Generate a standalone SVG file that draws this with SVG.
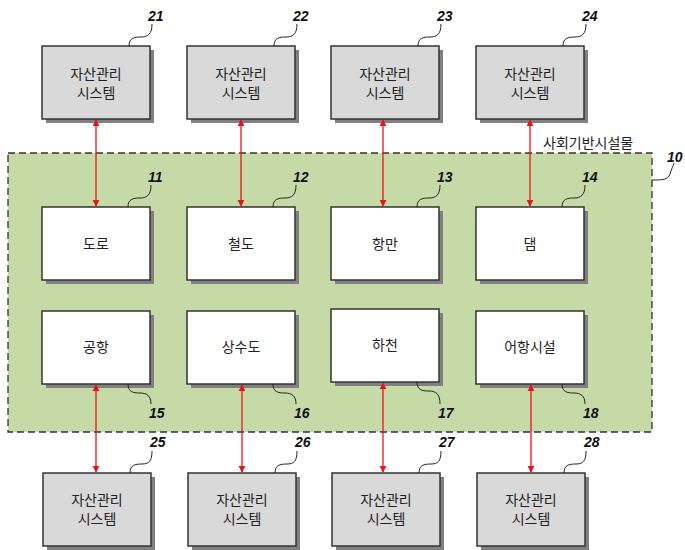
<svg xmlns="http://www.w3.org/2000/svg" width="685" height="550" viewBox="0 0 685 550">
<defs>
<style>
.sys{fill:#d9d9d9;stroke:#333;stroke-width:1.5}
.fac{fill:#fff;stroke:#333;stroke-width:1.5}
.sh{fill:#808080}
.t{font-family:"Noto Sans CJK KR","Noto Sans",sans-serif;font-size:14px;fill:#222;text-anchor:middle}
.lb{font-family:"Liberation Sans",Arial,sans-serif;font-size:14px;font-weight:bold;font-style:italic;fill:#111}
.ld{fill:none;stroke:#222;stroke-width:1}
.ar{stroke:#e8141a;stroke-width:1.3;fill:none;marker-start:url(#ah);marker-end:url(#ah)}
</style>
<marker id="ah" viewBox="0 0 10 10" refX="9" refY="5" markerWidth="7" markerHeight="9" markerUnits="userSpaceOnUse" orient="auto-start-reverse">
<path d="M0,0 L10,5 L0,10 z" fill="#e8141a"/>
</marker>
</defs>
<rect width="685" height="550" fill="#fff"/>

<g id="n10">
<rect x="8" y="153" width="644" height="279" fill="#c6daa8" stroke="#333" stroke-width="1.3" stroke-dasharray="7,4"/>
<text x="543" y="148" class="t" style="text-anchor:start">사회기반시설물</text>
<path class="ld" d="M652,180 C662,180 668,180 670,174 C672,168 673,166 674,163"/>
<text x="667" y="162" class="lb">10</text>
</g>

<g id="n21"><rect class="sh" x="46" y="50" width="108" height="73"/><rect class="sys" x="42" y="46" width="108" height="73"/><text class="t" x="96" y="79">자산관리</text><text class="t" x="96" y="98">시스템</text><path class="ld" d="M129,46 C129,38 134,37 141,37 C148,37 152,34 152,24"/><text class="lb" x="148" y="21">21</text></g>
<g id="n22"><rect class="sh" x="191" y="50" width="108" height="73"/><rect class="sys" x="187" y="46" width="108" height="73"/><text class="t" x="241" y="79">자산관리</text><text class="t" x="241" y="98">시스템</text><path class="ld" d="M274,46 C274,38 279,37 286,37 C293,37 297,34 297,24"/><text class="lb" x="293" y="21">22</text></g>
<g id="n23"><rect class="sh" x="335" y="50" width="108" height="73"/><rect class="sys" x="331" y="46" width="108" height="73"/><text class="t" x="385" y="79">자산관리</text><text class="t" x="385" y="98">시스템</text><path class="ld" d="M418,46 C418,38 423,37 430,37 C437,37 441,34 441,24"/><text class="lb" x="437" y="21">23</text></g>
<g id="n24"><rect class="sh" x="480" y="50" width="108" height="73"/><rect class="sys" x="476" y="46" width="108" height="73"/><text class="t" x="530" y="79">자산관리</text><text class="t" x="530" y="98">시스템</text><path class="ld" d="M563,46 C563,38 568,37 575,37 C582,37 586,34 586,24"/><text class="lb" x="582" y="21">24</text></g>

<g id="n11"><rect class="sh" x="46" y="211" width="108" height="73"/><rect class="fac" x="42" y="207" width="108" height="73"/><text class="t" x="96" y="249">도로</text><path class="ld" d="M128,207 C128,199 133,198 140,198 C147,198 151,195 151,185"/><text class="lb" x="148" y="182">11</text></g>
<g id="n12"><rect class="sh" x="191" y="211" width="108" height="73"/><rect class="fac" x="187" y="207" width="108" height="73"/><text class="t" x="241" y="249">철도</text><path class="ld" d="M273,207 C273,199 278,198 285,198 C292,198 296,195 296,185"/><text class="lb" x="293" y="182">12</text></g>
<g id="n13"><rect class="sh" x="335" y="211" width="108" height="73"/><rect class="fac" x="331" y="207" width="108" height="73"/><text class="t" x="385" y="249">항만</text><path class="ld" d="M417,207 C417,199 422,198 429,198 C436,198 440,195 440,185"/><text class="lb" x="437" y="182">13</text></g>
<g id="n14"><rect class="sh" x="480" y="211" width="108" height="73"/><rect class="fac" x="476" y="207" width="108" height="73"/><text class="t" x="530" y="249">댐</text><path class="ld" d="M562,207 C562,199 567,198 574,198 C581,198 585,195 585,185"/><text class="lb" x="582" y="182">14</text></g>

<g id="n15"><rect class="sh" x="46" y="315" width="108" height="73"/><rect class="fac" x="42" y="311" width="108" height="73"/><text class="t" x="96" y="352">공항</text><path class="ld" d="M128,384 C128,392 133,393 140,393 C147,393 151,396 151,404"/><text class="lb" x="149" y="418">15</text></g>
<g id="n16"><rect class="sh" x="191" y="315" width="108" height="73"/><rect class="fac" x="187" y="311" width="108" height="73"/><text class="t" x="241" y="352">상수도</text><path class="ld" d="M273,384 C273,392 278,393 285,393 C292,393 296,396 296,404"/><text class="lb" x="294" y="418">16</text></g>
<g id="n17"><rect class="sh" x="335" y="313" width="108" height="73"/><rect class="fac" x="331" y="309" width="108" height="73"/><text class="t" x="385" y="350">하천</text><path class="ld" d="M417,382 C417,390 422,391 429,391 C436,391 440,394 440,404"/><text class="lb" x="438" y="418">17</text></g>
<g id="n18"><rect class="sh" x="480" y="315" width="108" height="73"/><rect class="fac" x="476" y="311" width="108" height="73"/><text class="t" x="530" y="352">어항시설</text><path class="ld" d="M562,384 C562,392 567,393 574,393 C581,393 585,396 585,404"/><text class="lb" x="583" y="418">18</text></g>

<g id="n25"><rect class="sh" x="47" y="477" width="108" height="73"/><rect class="sys" x="43" y="473" width="108" height="73"/><text class="t" x="97" y="505">자산관리</text><text class="t" x="97" y="524">시스템</text><path class="ld" d="M130,473 C130,465 135,464 142,464 C149,464 152,461 152,451"/><text class="lb" x="150" y="447">25</text></g>
<g id="n26"><rect class="sh" x="192" y="477" width="108" height="73"/><rect class="sys" x="188" y="473" width="108" height="73"/><text class="t" x="242" y="505">자산관리</text><text class="t" x="242" y="524">시스템</text><path class="ld" d="M275,473 C275,465 280,464 287,464 C294,464 297,461 297,451"/><text class="lb" x="295" y="447">26</text></g>
<g id="n27"><rect class="sh" x="336" y="477" width="108" height="73"/><rect class="sys" x="332" y="473" width="108" height="73"/><text class="t" x="386" y="505">자산관리</text><text class="t" x="386" y="524">시스템</text><path class="ld" d="M419,473 C419,465 424,464 431,464 C438,464 441,461 441,451"/><text class="lb" x="439" y="447">27</text></g>
<g id="n28"><rect class="sh" x="481" y="477" width="108" height="73"/><rect class="sys" x="477" y="473" width="108" height="73"/><text class="t" x="531" y="505">자산관리</text><text class="t" x="531" y="524">시스템</text><path class="ld" d="M564,473 C564,465 569,464 576,464 C583,464 586,461 586,451"/><text class="lb" x="584" y="447">28</text></g>

<g id="connectors">
<line class="ar" x1="96" y1="120" x2="96" y2="206"/>
<line class="ar" x1="241" y1="120" x2="241" y2="206"/>
<line class="ar" x1="383" y1="120" x2="383" y2="206"/>
<line class="ar" x1="530" y1="120" x2="530" y2="206"/>
<line class="ar" x1="96" y1="385" x2="96" y2="472"/>
<line class="ar" x1="242" y1="385" x2="242" y2="472"/>
<line class="ar" x1="383" y1="383" x2="383" y2="472"/>
<line class="ar" x1="531" y1="385" x2="531" y2="472"/>
</g>
</svg>
